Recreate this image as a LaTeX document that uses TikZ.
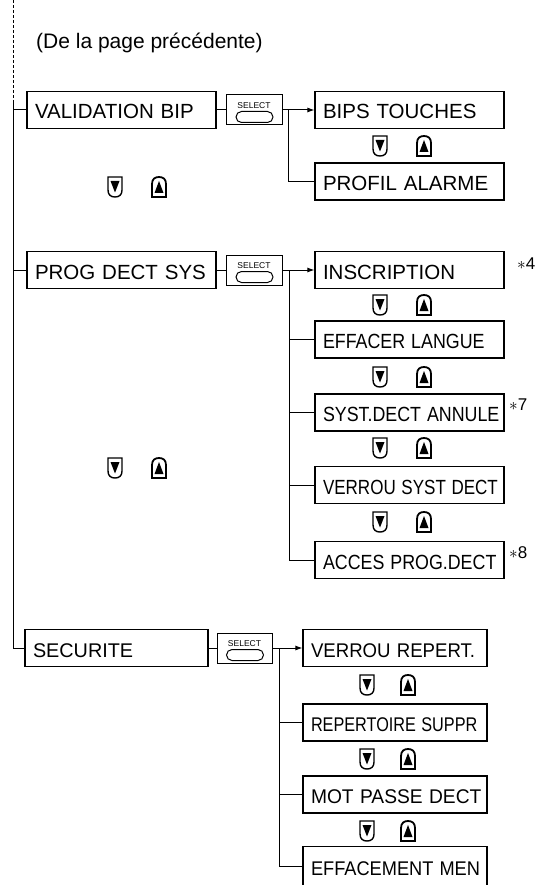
\documentclass[tikz,border=0pt]{standalone}
\usepackage{fontspec}
\setmainfont{Liberation Sans}
\usepackage{graphicx}
\usetikzlibrary{positioning,arrows.meta}
\tikzset{>={Latex[length=7pt,width=5pt]}}
\newcommand{\topsize}{\fontsize{20.5}{24}\selectfont}
\newcommand{\lowsize}{\fontsize{19.8}{23}\selectfont}
\newcommand{\squeeze}[2]{\scalebox{#1}[1]{#2}}
\tikzset{
  menubox/.style={draw, line width=1.1pt, minimum height=37pt, text width=173pt,
    text height=18pt, text depth=0pt, inner xsep=8pt, inner ysep=0pt, align=left, font=\topsize},
  lowbox/.style={menubox, text width=168pt, font=\lowsize},
  selbox/.style={draw, line width=1pt, minimum width=56pt, minimum height=30pt, inner sep=0pt,
    path picture={
      \node[font=\fontsize{8.5}{9}\selectfont, inner sep=0pt]
        at ([yshift=4.5pt]path picture bounding box.center) {SELECT};
      \draw[line width=1pt, rounded corners=5.5pt]
        ([xshift=-18pt,yshift=-1.5pt]path picture bounding box.center) rectangle
        ([xshift=19pt,yshift=-12.5pt]path picture bounding box.center);
    }},
  link/.style={line width=1pt},
  note/.style={font=\fontsize{17}{19}\selectfont, inner sep=0pt, anchor=west},
  dnkey/.pic={
    \draw[line width=1.4pt] (-7,-10) -- (7,-10) -- (7,3) .. controls (7,8) and (4,10) .. (0,10)
      .. controls (-4,10) and (-7,8) .. (-7,3) -- cycle;
    \fill (-4.5,-6) -- (4.5,-6) -- (0,5.5) -- cycle;
  },
  upkey/.pic={
    \draw[line width=1.8pt] (-7,10) -- (7,10) -- (7,-3) .. controls (7,-8) and (4,-10) .. (0,-10)
      .. controls (-4,-10) and (-7,-8) .. (-7,-3) -- cycle;
    \fill (-4.5,6) -- (4.5,6) -- (0,-6) -- cycle;
  }
}

\begin{document}
\begin{tikzpicture}[x=1pt,y=-1pt]
\useasboundingbox (0,0) rectangle (542,885);
\coordinate (top) at (13,0);
\coordinate (dend) at (13,100);
\node[font=\fontsize{21}{24}\selectfont, inner sep=0pt, anchor=west] (from) at (36,43) {(De la page précédente)};

% menus
\node[menubox] (valid) at (121.5,110) {VALIDATION BIP};
\node[menubox] (prog) at (121.5,270) {PROG DECT SYS};
\node[lowbox, text width=167pt] (secu) at (116.5,648) {SECURITE};

\node[selbox] (s1) at (254,110) {};
\node[selbox] (s2) at (254,270) {};
\node[selbox, minimum width=55pt] (s3) at (244.5,648) {};

% sous-menus
\node[menubox] (bips) at (409.5,110) {BIPS TOUCHES};
\node[menubox] (prof) at (409.5,181.5) {PROFIL ALARME};

\node[menubox] (inscr) at (409.5,270) {INSCRIPTION};
\node[menubox] (eff) at (409.5,339.5) {\squeeze{0.87}{EFFACER LANGUE}};
\node[menubox] (syst) at (409.5,412.5) {\squeeze{0.87}{SYST.DECT ANNULE}};
\node[menubox] (verr) at (409.5,485) {\squeeze{0.83}{VERROU SYST DECT}};
\node[menubox] (acces) at (409.5,560) {\squeeze{0.87}{ACCES PROG.DECT}};

\node[lowbox] (vrep) at (395,648) {\squeeze{0.94}{VERROU REPERT.}};
\node[lowbox] (rep) at (395,722.5) {\squeeze{0.82}{REPERTOIRE SUPPR}};
\node[lowbox] (mot) at (395,794.5) {\squeeze{0.97}{MOT PASSE DECT}};
\node[lowbox, minimum height=40pt] (effm) at (395,866.5) {\squeeze{0.92}{EFFACEMENT MEN}};

\node[note] (n4) at (517,264) {$\ast$4};
\node[note] (n7) at (509,405) {$\ast$7};
\node[note] (n8) at (509,553) {$\ast$8};

% lignes
\draw[link, dash pattern=on 3pt off 2pt] (top) -- (dend);
\draw[link] (dend) |- (secu.west);
\foreach \m in {valid,prog}
  \draw[link] (dend |- \m.west) -- (\m.west);
\draw[link] (valid) -- (s1);
\draw[link] (prog) -- (s2);
\draw[link] (secu) -- (s3);

\coordinate (j1) at (288,110);
\coordinate (j2) at (289,270);
\coordinate (j3) at (279,648);
\draw[link,->] (s1) -- (bips);
\draw[link,->] (s2) -- (inscr);
\draw[link,->] (s3) -- (vrep);
\draw[link] (j1) |- (prof.west);
\draw[link] (j2) |- (acces.west);
\foreach \m in {eff,syst,verr}
  \draw[link] (j2 |- \m.west) -- (\m.west);
\draw[link] (j3) |- (effm.west);
\foreach \m in {rep,mot}
  \draw[link] (j3 |- \m.west) -- (\m.west);

% touches
\pic at (115,187) {dnkey}; \pic at (159,187) {upkey};
\pic at (115,468) {dnkey}; \pic at (159,468) {upkey};
\pic at (380,146) {dnkey}; \pic at (424,146) {upkey};
\foreach \y in {305,377,448,522} {
  \pic at (380,\y) {dnkey}; \pic at (424,\y) {upkey};
}
\foreach \y in {685,759,831} {
  \pic at (367,\y) {dnkey}; \pic at (408,\y) {upkey};
}
\end{tikzpicture}
\end{document}
